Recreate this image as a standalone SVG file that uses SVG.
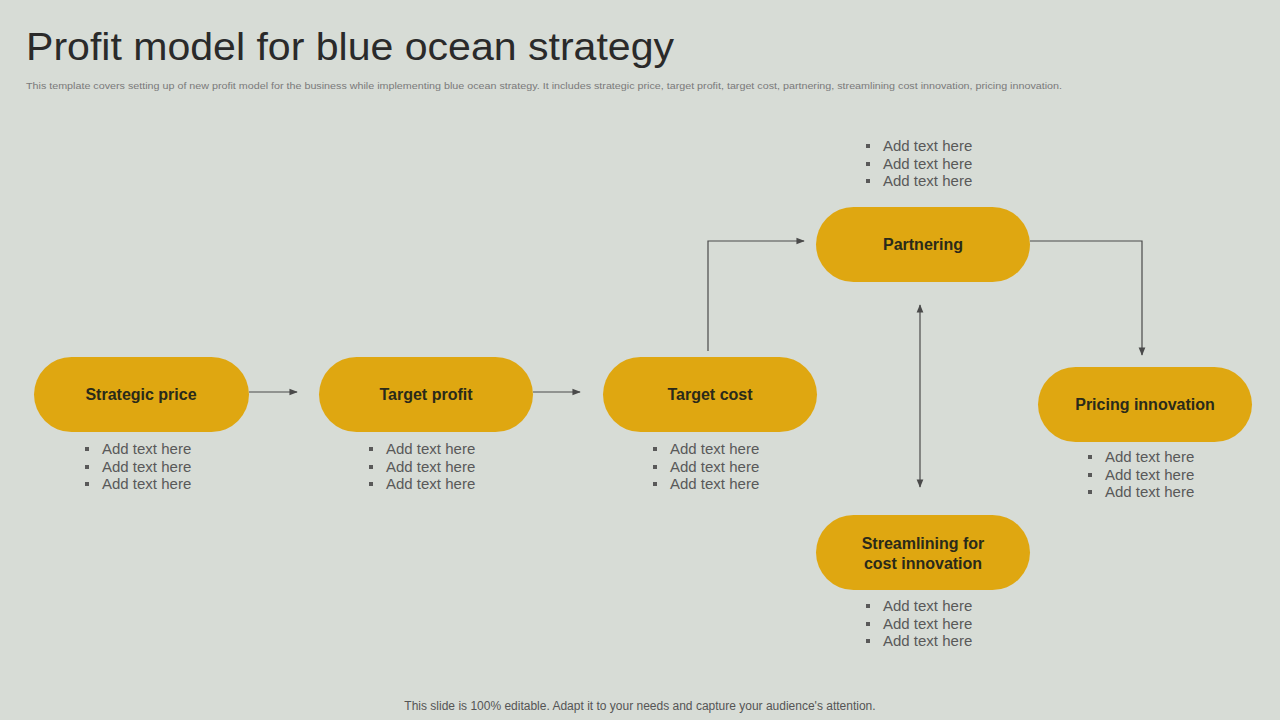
<svg xmlns="http://www.w3.org/2000/svg" width="1280" height="720" viewBox="0 0 1280 720">
<style>
.pill{fill:#DFA711}
.lbl{font-family:"Liberation Sans",Arial,sans-serif;font-size:16px;font-weight:bold;fill:#2a2a1a;text-anchor:middle}
.b{font-family:"Liberation Sans",Arial,sans-serif;font-size:15px;fill:#595959}
.sq{fill:#595959}
.ln{stroke:#4a4a4a;stroke-width:1.2;fill:none}
</style>
<defs>
<marker id="ah" viewBox="0 0 10 10" refX="9" refY="5" markerWidth="7" markerHeight="7" orient="auto-start-reverse"><path d="M0,1 L10,5 L0,9 z" fill="#4a4a4a"/></marker>
<g id="bl">
<rect x="0" y="-7" width="4" height="4" class="sq"/><text x="17" y="0" class="b">Add text here</text>
<rect x="0" y="11" width="4" height="4" class="sq"/><text x="17" y="18" class="b">Add text here</text>
<rect x="0" y="28" width="4" height="4" class="sq"/><text x="17" y="35" class="b">Add text here</text>
</g>
</defs>
<rect width="1280" height="720" fill="#D7DCD6"/>
<text x="26" y="60" font-family="'Liberation Sans',Arial,sans-serif" font-size="38" fill="#2a2a2a" textLength="648" lengthAdjust="spacingAndGlyphs">Profit model for blue ocean strategy</text>
<text x="26" y="89" font-family="'Liberation Sans',Arial,sans-serif" font-size="9.5" fill="#7a7a7a" textLength="1036" lengthAdjust="spacingAndGlyphs">This template covers setting up of new profit model for the business while implementing blue ocean strategy. It includes strategic price, target profit, target cost, partnering, streamlining cost innovation, pricing innovation.</text>
<g id="connectors">
<line class="ln" x1="249" y1="392" x2="297" y2="392" marker-end="url(#ah)"/>
<line class="ln" x1="533" y1="392" x2="580" y2="392" marker-end="url(#ah)"/>
<polyline class="ln" points="708,351 708,241 804,241" marker-end="url(#ah)"/>
<polyline class="ln" points="1030,241 1142,241 1142,355" marker-end="url(#ah)"/>
<line class="ln" x1="920" y1="305" x2="920" y2="487" marker-start="url(#ah)" marker-end="url(#ah)"/>
</g>
<g id="strategic"><rect class="pill" x="34" y="357" width="215" height="75" rx="37.5"/><text class="lbl" x="141" y="400">Strategic  price</text><use href="#bl" x="85" y="454"/></g>
<g id="profit"><rect class="pill" x="319" y="357" width="214" height="75" rx="37.5"/><text class="lbl" x="426" y="400">Target profit</text><use href="#bl" x="369" y="454"/></g>
<g id="cost"><rect class="pill" x="603" y="357" width="214" height="75" rx="37.5"/><text class="lbl" x="710" y="400">Target cost</text><use href="#bl" x="653" y="454"/></g>
<g id="partnering"><rect class="pill" x="816" y="207" width="214" height="75" rx="37.5"/><text class="lbl" x="923" y="250">Partnering</text><use href="#bl" x="866" y="151"/></g>
<g id="pricing"><rect class="pill" x="1038" y="367" width="214" height="75" rx="37.5"/><text class="lbl" x="1145" y="410">Pricing innovation</text><use href="#bl" x="1088" y="462"/></g>
<g id="streamlining"><rect class="pill" x="816" y="515" width="214" height="75" rx="37.5"/><text class="lbl" x="923" y="549">Streamlining for</text><text class="lbl" x="923" y="569">cost  innovation</text><use href="#bl" x="866" y="611"/></g>
<text x="640" y="710" text-anchor="middle" font-family="'Liberation Sans',Arial,sans-serif" font-size="12" fill="#555">This slide is 100% editable. Adapt it to your needs and capture your audience's attention.</text>
</svg>
